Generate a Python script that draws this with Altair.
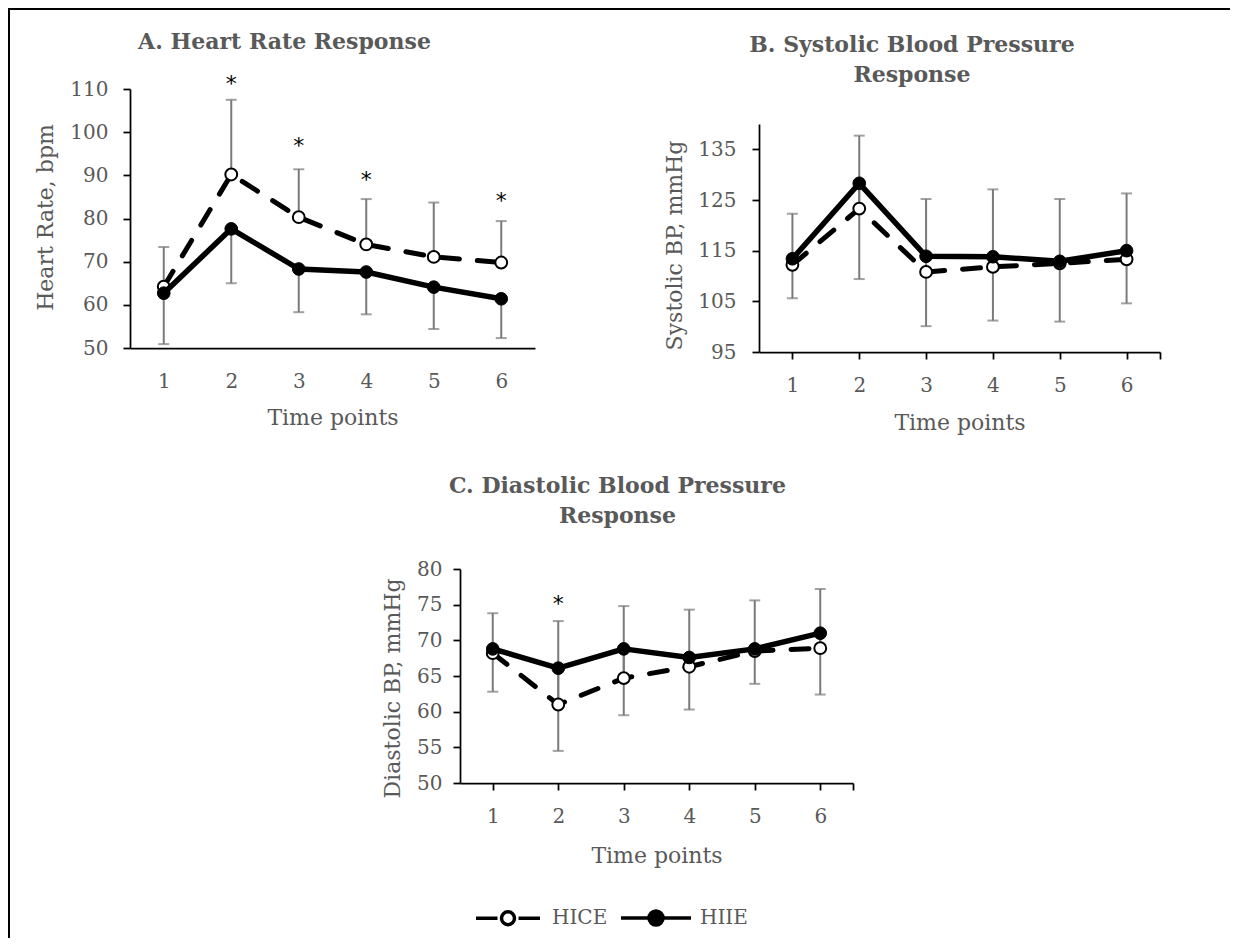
import altair as alt
import pandas as pd

# ---------------- data ----------------
time_points = [1, 2, 3, 4, 5, 6]
series_names = ["HICE", "HIIE"]

hr_hice = [64.2, 90.2, 80.3, 74.0, 71.1, 69.8]
hr_hice_sd = [9.2, 17.3, 11.1, 10.5, 12.6, 9.6]
hr_hiie = [62.7, 77.6, 68.3, 67.6, 64.1, 61.4]
hr_hiie_sd = [11.8, 12.6, 10.0, 9.8, 9.7, 9.1]

sbp_hice = [112.2, 123.3, 110.8, 111.8, 112.5, 113.3]
sbp_hice_sd = [10.1, 14.4, 14.4, 15.3, 12.7, 13.0]
sbp_hiie = [113.4, 128.3, 113.9, 113.8, 112.9, 115.0]
sbp_hiie_sd = [7.8, 18.9, 13.8, 12.6, 11.9, 10.4]

dbp_hice = [68.2, 61.0, 64.7, 66.3, 68.5, 68.9]
dbp_hice_sd = [5.6, 11.7, 10.1, 8.0, 7.1, 8.3]
dbp_hiie = [68.8, 66.1, 68.8, 67.6, 68.8, 71.0]
dbp_hiie_sd = [6.0, 11.6, 9.3, 7.3, 4.9, 8.6]

hr_sig_times = [2, 3, 4, 6]
hr_star_y = [112.5, 98.2, 90.3, 85.5]
dbp_sig_times = [2]
dbp_star_y = [75.9]

hr_ticks = [50, 60, 70, 80, 90, 100, 110]
sbp_ticks = [95, 105, 115, 125, 135]
dbp_ticks = [50, 55, 60, 65, 70, 75, 80]

FONT = "DejaVu Serif"
GREY = "#595959"
ERR = "#7a7a7a"

PATH_HICE = "M-3.2,0L-1.05,0M1.05,0L3.2,0M0.65,0A0.65,0.65,0,1,1,-0.65,0A0.65,0.65,0,1,1,0.65,0Z"
PATH_HIIE = "M-3.5,0L3.5,0M0.7,0A0.7,0.7,0,1,1,-0.7,0A0.7,0.7,0,1,1,0.7,0Z"


def make_df(hice, hice_sd, hiie, hiie_sd):
    rows = []
    for t, m, s in zip(time_points, hice, hice_sd):
        rows.append({"time": t, "series": "HICE", "mean": m, "sd": s})
    for t, m, s in zip(time_points, hiie, hiie_sd):
        rows.append({"time": t, "series": "HIIE", "mean": m, "sd": s})
    return pd.DataFrame(rows)


def panel(df, stars, ydom, yvals, ytitle, title, w, h, x_ticks, ylab_pad,
          ytitle_x, ytitle_y, xtitle_y, xlab_pad, title_offset, legend=None):
    if x_ticks:
        xaxis = alt.Axis(values=time_points + [6.5], ticks=True, tickSize=7,
                         labelExpr="datum.value == 6.5 ? '' : datum.label",
                         labelPadding=xlab_pad, title="Time points",
                         titleY=xtitle_y, titleBaseline="middle", labelFlush=False)
    else:
        xaxis = alt.Axis(values=time_points, ticks=False, labelPadding=xlab_pad,
                         title="Time points", titleY=xtitle_y, titleBaseline="middle",
                         labelFlush=False)
    xsc = alt.Scale(domain=[0.5, 6.5], nice=False, zero=False)
    ysc = alt.Scale(domain=ydom, nice=False, zero=False)
    yaxis = alt.Axis(values=yvals, tickSize=7, labelPadding=ylab_pad, title=ytitle,
                     titleX=ytitle_x, titleY=ytitle_y, titleBaseline="middle",
                     titleAlign="center", labelFlush=False)

    def X():
        return alt.X("time:Q", scale=xsc, axis=xaxis)

    def Y(f):
        return alt.Y(f, scale=ysc, axis=yaxis)

    base = alt.Chart(df).transform_calculate(
        lo="datum.series == 'HICE' ? datum.mean : datum.mean - datum.sd",
        hi="datum.series == 'HICE' ? datum.mean + datum.sd : datum.mean",
        cap="datum.series == 'HICE' ? datum.mean + datum.sd : datum.mean - datum.sd",
    )
    err = base.mark_rule(color=ERR, strokeWidth=2).encode(x=X(), y=Y("lo:Q"), y2="hi:Q")
    caps = base.mark_tick(color=ERR, thickness=2, size=11, orient="horizontal").encode(
        x=X(), y=Y("cap:Q"))
    hice = base.transform_filter("datum.series == 'HICE'")
    hiie = base.transform_filter("datum.series == 'HIIE'")
    hice_line = hice.mark_line(color="black", strokeWidth=5, strokeDash=[18, 18],
                               strokeCap="round").encode(x=X(), y=Y("mean:Q"))
    hice_pts = hice.mark_point(shape="circle", filled=True, fill="white", stroke="black",
                               strokeWidth=2, size=140, opacity=1).encode(x=X(), y=Y("mean:Q"))
    hiie_line = hiie.mark_line(color="black", strokeWidth=5.5, strokeJoin="round").encode(
        x=X(), y=Y("mean:Q"))
    hiie_pts = hiie.mark_point(shape="circle", filled=True, fill="black", stroke="black",
                               strokeWidth=1, size=160, opacity=1).encode(x=X(), y=Y("mean:Q"))
    layers = [err, caps, hice_line, hice_pts, hiie_line, hiie_pts]
    if stars is not None:
        layers.append(alt.Chart(stars).mark_text(text="*", font="DejaVu Sans", fontSize=22,
                                                 color="black", baseline="middle", dy=6)
                      .encode(x=X(), y=Y("star:Q")))
    if legend is not None:
        leg = alt.Legend(orient="none", legendX=legend[0], legendY=legend[1],
                         direction="horizontal", title=None, symbolSize=400,
                         symbolStrokeWidth=3.5, symbolStrokeColor="black",
                         symbolOpacity=1, labelFont=FONT, labelFontSize=20,
                         labelColor=GREY, labelOffset=32, columnPadding=6, padding=0)
        layers.append(
            base.transform_filter("false").mark_point(
                filled=True, opacity=1, stroke="black", strokeWidth=3.5).encode(
                x=X(), y=Y("mean:Q"),
                shape=alt.Shape("series:N", scale=alt.Scale(domain=series_names,
                                                            range=[PATH_HICE, PATH_HIIE]),
                                legend=leg),
                fill=alt.Fill("series:N", scale=alt.Scale(domain=series_names,
                                                          range=["white", "black"]),
                              legend=leg),
                stroke=alt.Stroke("series:N", scale=alt.Scale(domain=series_names,
                                                              range=["black", "black"]),
                                  legend=leg),
            ))
    return alt.layer(*layers).properties(
        width=w, height=h,
        title=alt.TitleParams(text=title, anchor="middle", frame="bounds", font=FONT,
                              fontSize=22, fontWeight="bold", color=GREY,
                              offset=title_offset, lineHeight=30, baseline="bottom"),
    )


def spacer(w, h, fill=None):
    ch = alt.Chart(pd.DataFrame({"v": [0]})).mark_text(text=" ", fontSize=1, opacity=0)
    ch = ch.properties(width=w, height=h)
    if fill is not None:
        ch = ch.properties(view=alt.ViewBackground(fill=fill, strokeWidth=0))
    return ch


hr_df = make_df(hr_hice, hr_hice_sd, hr_hiie, hr_hiie_sd)
sbp_df = make_df(sbp_hice, sbp_hice_sd, sbp_hiie, sbp_hiie_sd)
dbp_df = make_df(dbp_hice, dbp_hice_sd, dbp_hiie, dbp_hiie_sd)
hr_stars = pd.DataFrame({"time": hr_sig_times, "star": hr_star_y})
dbp_stars = pd.DataFrame({"time": dbp_sig_times, "star": dbp_star_y})

A = panel(hr_df, hr_stars, [50, 110], hr_ticks, "Heart Rate, bpm",
          "A. Heart Rate Response", 405, 259, False, 15, -85, 128, 69, 23.5, -3)
B = panel(sbp_df, None, [95, 140], sbp_ticks, "Systolic BP, mmHg",
          ["B. Systolic Blood Pressure", "Response"], 401, 228, True, 16, -85, 121, 70, 16, 15)
C = panel(dbp_df, dbp_stars, [50, 80], dbp_ticks, "Diastolic BP, mmHg",
          ["C. Diastolic Blood Pressure", "Response"], 393, 214, True, 11, -68, 119, 72, 16.5, 9,
          legend=(488, 898))

colB = alt.vconcat(spacer(1, 35), B, spacing=0, bounds="flush")
rowAB = alt.hconcat(A, colB, spacing=224, bounds="flush")
rowC = alt.hconcat(spacer(330, 1), C, spacing=0, bounds="flush")
body = alt.vconcat(rowAB, rowC, spacing=480, bounds="flush")
body2 = alt.hconcat(spacer(120, 1), body, spacing=0, bounds="flush")
right = alt.vconcat(spacer(1220, 2, "black"), body2, spacing=79, bounds="flush")
chart = alt.hconcat(spacer(2, 930, "black"), right, spacing=0, bounds="flush").properties(
    padding={"left": 0, "top": 0, "right": 0, "bottom": 0}, background="white"
).configure_view(strokeWidth=0).configure_axis(
    grid=False, domainColor="black", domainWidth=1.75, tickColor="black", tickWidth=1.75,
    labelColor=GREY, labelFont=FONT, labelFontSize=20, titleColor=GREY, titleFont=FONT,
    titleFontSize=22, titleFontWeight="normal",
)

chart.save("out.html", embed_options={"renderer": "svg", "actions": False})
